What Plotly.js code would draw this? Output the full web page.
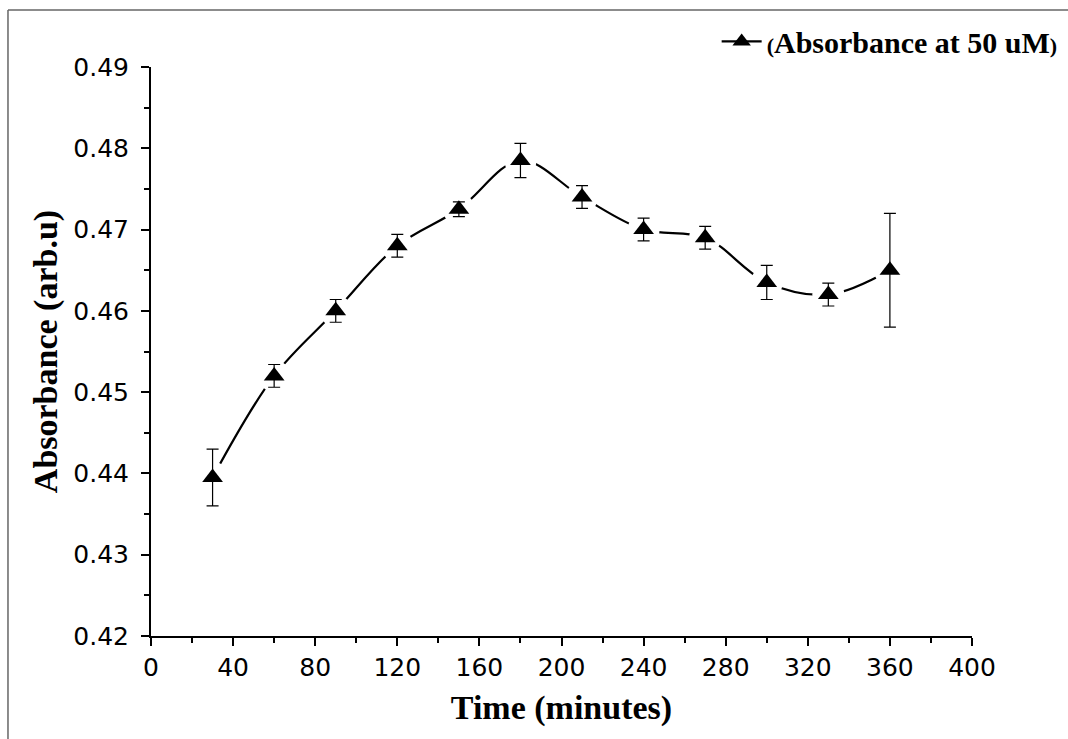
<!DOCTYPE html>
<html>
<head>
<meta charset="utf-8">
<script src="https://cdn.plot.ly/plotly-3.0.1.min.js"></script>
<style>html,body{margin:0;padding:0;background:#fff;}#chart{width:1068px;height:739px;}</style>
</head>
<body>
<div id="chart"></div>
<script>
// Data
const timeMinutes = [30, 60, 90, 120, 150, 180, 210, 240, 270, 300, 330, 360];
const absorbance  = [0.4395, 0.4520, 0.4600, 0.4680, 0.4725, 0.4785, 0.4740, 0.4700, 0.4690, 0.4635, 0.4620, 0.4650];
const absError    = [0.0035, 0.0014, 0.0014, 0.0014, 0.0009, 0.0021, 0.0014, 0.0014, 0.0014, 0.0021, 0.0014, 0.0070];
const seriesName  = '<span style="font-size:22px">(</span>Absorbance at 50 uM<span style="font-size:22px">)</span>';
const xTickVals = [0, 40, 80, 120, 160, 200, 240, 280, 320, 360, 400];
const yTickVals = [0.42, 0.43, 0.44, 0.45, 0.46, 0.47, 0.48, 0.49];

const sansFont = 'DejaVu Sans, Liberation Sans, Arial, sans-serif';
const serifFont = 'Liberation Serif, Times New Roman, serif';

const traces = [
  { // line + triangles (legend entry)
    x: timeMinutes, y: absorbance, type: 'scatter', mode: 'lines+markers',
    name: seriesName,
    line: {color: '#000', width: 2.2, shape: 'spline', smoothing: 1},
    marker: {symbol: 'triangle-up', size: 18, color: '#000'},
    showlegend: true, hoverinfo: 'skip'
  },
  { // white halo creating gaps in the line around each symbol
    x: timeMinutes, y: absorbance, type: 'scatter', mode: 'markers',
    marker: {symbol: 'circle', size: 32, color: '#fff', line: {width: 0}},
    showlegend: false, hoverinfo: 'skip'
  },
  { // symbols with error bars
    x: timeMinutes, y: absorbance, type: 'scatter', mode: 'markers',
    marker: {symbol: 'triangle-up', size: 18, color: '#000'},
    error_y: {type: 'data', array: absError, visible: true, color: '#000', thickness: 1.2, width: 6},
    showlegend: false
  }
];

const layout = {
  width: 1068, height: 739,
  margin: {l: 151, r: 96, t: 67, b: 103, autoexpand: false},
  paper_bgcolor: '#fff', plot_bgcolor: '#fff',
  showlegend: true,
  legend: {
    xref: 'container', yref: 'container',
    x: 0.995, xanchor: 'right', y: 0.944, yanchor: 'middle',
    bgcolor: 'rgba(0,0,0,0)', borderwidth: 0,
    font: {family: serifFont, size: 30, color: '#000', weight: 'bold'},
    itemwidth: 40
  },
  xaxis: {
    range: [0, 400], tickvals: xTickVals, ticktext: xTickVals.map(String),
    showline: true, linecolor: '#000', linewidth: 2,
    ticks: 'outside', ticklen: 8, tickwidth: 2, tickcolor: '#000',
    minor: {ticks: 'outside', ticklen: 5, tickwidth: 2, tickcolor: '#000', dtick: 20, tick0: 0},
    showgrid: false, zeroline: false,
    tickfont: {family: sansFont, size: 25, color: '#000'},
    title: {text: 'Time (minutes)', font: {family: serifFont, size: 34, color: '#000', weight: 'bold'}, standoff: 14}
  },
  yaxis: {
    range: [0.42, 0.49], tickvals: yTickVals, ticktext: yTickVals.map(v => v.toFixed(2)),
    showline: true, linecolor: '#000', linewidth: 2,
    ticks: 'outside', ticklen: 8, tickwidth: 2, tickcolor: '#000',
    ticklabelstandoff: 7,
    minor: {ticks: 'outside', ticklen: 5, tickwidth: 2, tickcolor: '#000', dtick: 0.005, tick0: 0.42},
    showgrid: false, zeroline: false,
    tickfont: {family: sansFont, size: 25, color: '#000'},
    title: {text: 'Absorbance (arb.u)', font: {family: serifFont, size: 34, color: '#000', weight: 'bold'}, standoff: 5}
  },
  shapes: [
    {type: 'line', xref: 'paper', yref: 'paper', x0: -0.1742, x1: 1.12, y0: 1.1002, y1: 1.1002, line: {color: '#666', width: 1.5}},
    {type: 'line', xref: 'paper', yref: 'paper', x0: -0.1742, x1: -0.1742, y0: 1.1002, y1: -0.19, line: {color: '#666', width: 1.5}}
  ]
};

Plotly.newPlot('chart', traces, layout, {displayModeBar: false, staticPlot: true});
</script>
</body>
</html>
